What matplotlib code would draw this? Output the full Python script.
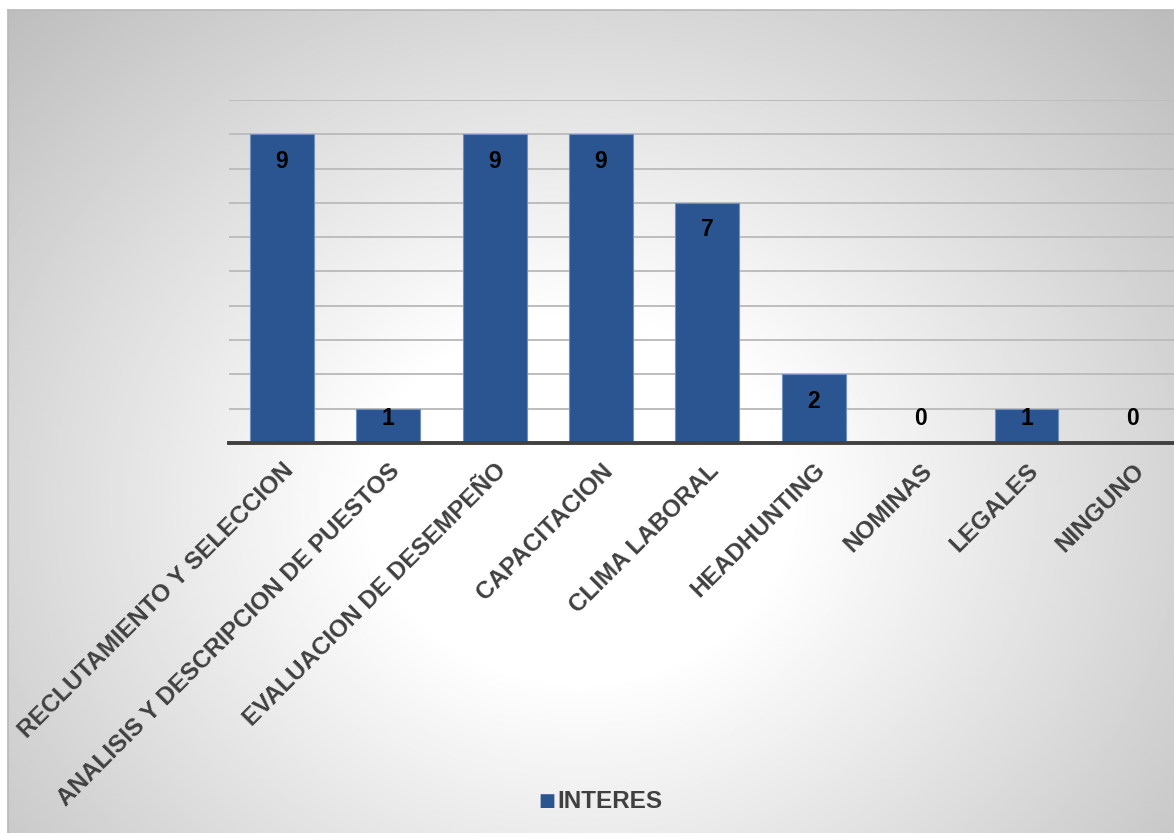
import numpy as np
import matplotlib.pyplot as plt

categorias = ['RECLUTAMIENTO Y SELECCION', 'ANALISIS Y DESCRIPCION DE PUESTOS',
              'EVALUACION DE DESEMPEÑO', 'CAPACITACION', 'CLIMA LABORAL',
              'HEADHUNTING', 'NOMINAS', 'LEGALES', 'NINGUNO']
interes = [9, 1, 9, 9, 7, 2, 0, 1, 0]
serie = 'INTERES'

W, H = 1174, 833
fig = plt.figure(figsize=(W / 100, H / 100), dpi=100)
fig.patch.set_facecolor('white')
fuente = ['Liberation Sans', 'DejaVu Sans']

# fondo con degradado radial
px0, py0 = 8, 10
bg = fig.add_axes([px0 / W, 0, 1 - px0 / W, 1 - py0 / H])
xx, yy = np.meshgrid(np.linspace(px0, W, 400), np.linspace(py0, H, 300))
r = np.sqrt(((xx - 580) / 700) ** 2 + ((yy - 500) / 600) ** 2)
g = 1.0 - 0.24 * np.clip((r - 0.3) / 0.8, 0, 1.2)
bg.imshow(g, cmap='gray', vmin=0, vmax=1, aspect='auto',
          extent=[0, 1, 0, 1], interpolation='bilinear')
bg.set_xticks([])
bg.set_yticks([])
for s in ['right', 'bottom']:
    bg.spines[s].set_visible(False)
for s in ['left', 'top']:
    bg.spines[s].set_color('#b8b8b8')
    bg.spines[s].set_linewidth(1.2)

left = 228.8 / W
right = 1186 / W
bottom = 1 - 443 / H
top = 1 - 100 / H
ax = fig.add_axes([left, bottom, right - left, top - bottom])
ax.patch.set_alpha(0)

x = np.arange(len(categorias))
ax.bar(x, interes, width=0.6, color='#2b5591', edgecolor='#7090c4',
       linewidth=0.8, zorder=3)
ax.set_xlim(-0.5, len(categorias) - 0.5)
ax.set_ylim(0, 10)
ax.set_yticks(np.arange(0, 11))
ax.yaxis.grid(True, color='#bdbdbd', linewidth=1.4, zorder=0)
ax.tick_params(axis='y', left=False, labelleft=False)
ax.tick_params(axis='x', bottom=False, pad=8)
for s in ['left', 'right', 'top']:
    ax.spines[s].set_visible(False)
ax.spines['bottom'].set_color('#404040')
ax.spines['bottom'].set_linewidth(2.8)
ax.spines['bottom'].set_zorder(5)

ax.set_xticks(x)
ax.set_xticklabels(categorias, rotation=45, ha='right', va='top',
                   rotation_mode='anchor', fontsize=17.5, fontweight='bold',
                   color='#404040', family=fuente)

for xi, v in zip(x, interes):
    ax.text(xi, max(v - 0.78, 0.7), str(v), ha='center', va='center',
            fontsize=16.5, fontweight='bold', color='black',
            family=fuente, zorder=6)

# leyenda
fig.text(547 / W, 1 - 801 / H, '■', ha='center', va='center', fontsize=13,
         color='#2b5591', family=['DejaVu Sans'])
fig.text(557 / W, 1 - 801 / H, serie, ha='left', va='center', fontsize=17.5,
         fontweight='bold', color='#404040', family=fuente)

fig.savefig('out.png', dpi=100)
